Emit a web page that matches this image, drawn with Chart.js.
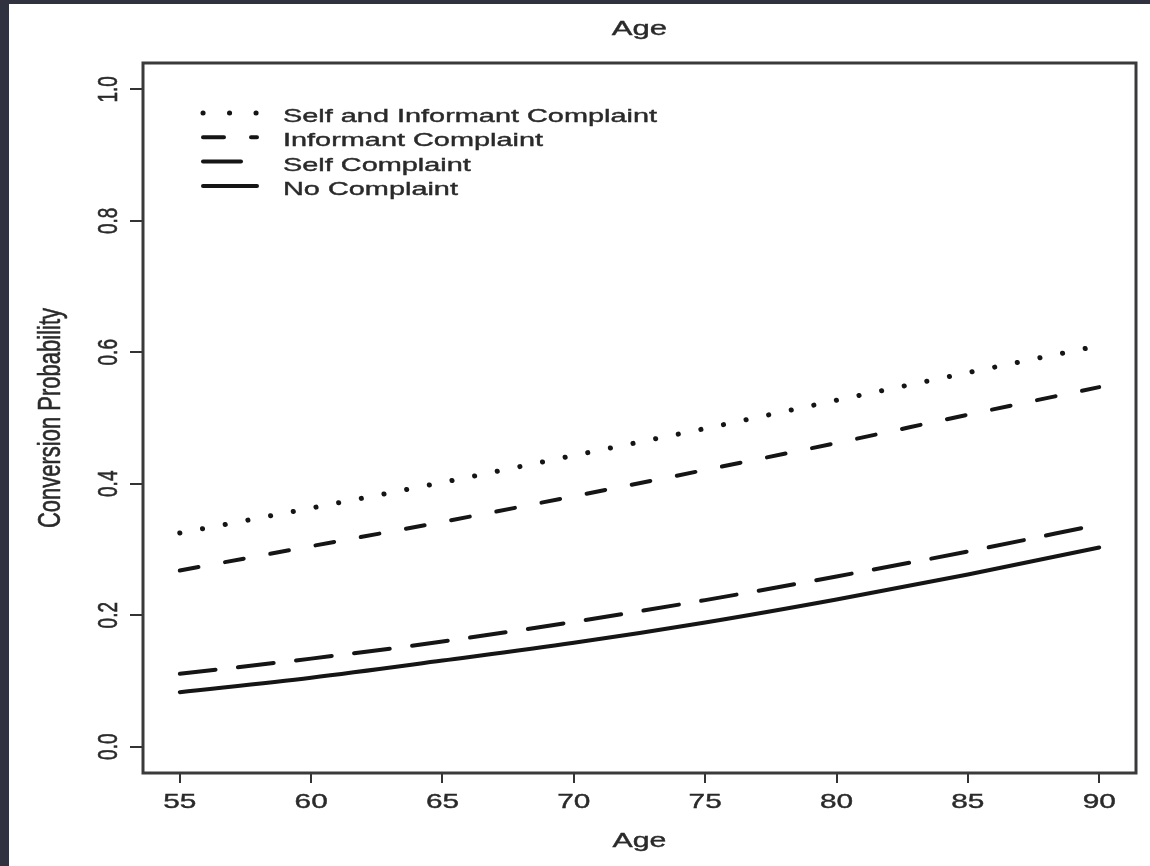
<!DOCTYPE html>
<html>
<head>
<meta charset="utf-8">
<script src="https://cdn.jsdelivr.net/npm/chart.js@4.4.0/dist/chart.umd.min.js"></script>
<style>
  html, body { margin: 0; padding: 0; background: #30323f; }
  #wrap { position: absolute; left: 9px; top: 4px; width: 1141px; height: 862px; background: #fff; }
</style>
</head>
<body>
<div id="wrap"><canvas id="prob-chart" width="1141" height="862"></canvas></div>
<script>
// values, one per 5 years of age
const ages = [55, 60, 65, 70, 75, 80, 85, 90];
const selfAndInformant = [0.325, 0.363, 0.402, 0.443, 0.484, 0.527, 0.569, 0.610];
const informant = [0.268, 0.305, 0.342, 0.381, 0.421, 0.462, 0.505, 0.547];
const selfComplaint = [0.111, 0.134, 0.160, 0.190, 0.223, 0.259, 0.297, 0.338];
const noComplaint = [0.083, 0.105, 0.131, 0.158, 0.189, 0.224, 0.262, 0.303];

const seriesNames = ['Self and Informant Complaint', 'Informant Complaint', 'Self Complaint', 'No Complaint'];
const xTicks = [55, 60, 65, 70, 75, 80, 85, 90];
const yTicks = [0, 0.2, 0.4, 0.6, 0.8, 1.0];
const yTickLabels = ['0.0', '0.2', '0.4', '0.6', '0.8', '1.0'];
const xTitle = 'Age';
const yTitle = 'Conversion Probability';

const ink = '#151515';
const textInk = '#2a2a2a';
const fontFamily = '"Liberation Sans", Arial, Helvetica, sans-serif';

function points(vals) {
  return ages.map((a, i) => ({ x: a, y: vals[i] }));
}

// text in the original is stretched sideways and a bit heavy
function paintText(ctx, text) {
  ctx.fillText(text, 0, 0);
  ctx.lineWidth = 0.4;
  ctx.strokeText(text, 0, 0);
}

function wideText(ctx, text, x, y, size, sx, align) {
  ctx.save();
  ctx.font = size + 'px ' + fontFamily;
  ctx.fillStyle = textInk;
  ctx.strokeStyle = textInk;
  ctx.textAlign = align || 'center';
  ctx.textBaseline = 'alphabetic';
  ctx.translate(x, y);
  ctx.scale(sx, 1);
  paintText(ctx, text);
  ctx.restore();
}

function upText(ctx, text, x, y, size, sy) {
  ctx.save();
  ctx.font = size + 'px ' + fontFamily;
  ctx.fillStyle = textInk;
  ctx.strokeStyle = textInk;
  ctx.textAlign = 'center';
  ctx.textBaseline = 'alphabetic';
  ctx.translate(x, y);
  ctx.rotate(-Math.PI / 2);
  ctx.scale(1, sy);
  paintText(ctx, text);
  ctx.restore();
}

const rPlot = {
  id: 'rPlot',
  afterDraw(chart) {
    const ctx = chart.ctx;
    const area = chart.chartArea;
    const xs = chart.scales.x;
    const ys = chart.scales.y;
    const cx = (area.left + area.right) / 2;

    // box
    ctx.save();
    ctx.strokeStyle = '#3a3a3a';
    ctx.lineWidth = 3;
    ctx.strokeRect(area.left, area.top, area.right - area.left, area.bottom - area.top);
    ctx.restore();

    // tick labels
    xTicks.forEach(v => wideText(ctx, String(v), xs.getPixelForValue(v), 804, 21, 1.42));
    yTicks.forEach((v, i) => upText(ctx, yTickLabels[i], 108, ys.getPixelForValue(v), 19, 1.5));

    // titles
    wideText(ctx, xTitle, cx, 31, 21, 1.48);
    wideText(ctx, xTitle, cx, 843, 21, 1.44);
    upText(ctx, yTitle, 51, 414, 22, 1.4);

    // legend
    chart.data.datasets.forEach((ds, i) => {
      const ly = 109 + i * 24.3;
      ctx.save();
      ctx.strokeStyle = ink;
      ctx.lineWidth = ds.borderWidth;
      ctx.lineCap = 'round';
      ctx.setLineDash(ds.legendDash || []);
      ctx.beginPath();
      ctx.moveTo(194, ly);
      ctx.lineTo(248, ly);
      ctx.stroke();
      ctx.restore();
      wideText(ctx, ds.label, 274, ly + 9, 19, 1.52, 'left');
    });
  }
};

const data = {
  datasets: [
    {
      label: seriesNames[0],
      data: points(selfAndInformant),
      borderDash: [0.1, 23],
      legendDash: [0.1, 26.4],
      borderWidth: 5
    },
    {
      label: seriesNames[1],
      data: points(informant),
      borderDash: [19, 27],
      legendDash: [21, 27],
      borderWidth: 4
    },
    {
      label: seriesNames[2],
      data: points(selfComplaint),
      borderDash: [36, 22.5],
      legendDash: [38, 22.5],
      borderWidth: 4
    },
    {
      label: seriesNames[3],
      data: points(noComplaint),
      borderWidth: 4
    }
  ]
};

data.datasets.forEach(ds => {
  ds.borderColor = ink;
  ds.backgroundColor = ink;
  ds.borderCapStyle = 'round';
  ds.pointRadius = 0;
  ds.fill = false;
  ds.cubicInterpolationMode = 'monotone';
});

const config = {
  type: 'line',
  data: data,
  options: {
    responsive: false,
    animation: false,
    devicePixelRatio: 1,
    layout: { padding: { top: 59, right: 14, left: 0, bottom: 0 } },
    plugins: {
      legend: { display: false },
      tooltip: { enabled: false }
    },
    scales: {
      x: {
        type: 'linear',
        min: 53.6,
        max: 91.4,
        afterBuildTicks: s => { s.ticks = xTicks.map(v => ({ value: v })); },
        afterFit: s => { s.height = 93; },
        ticks: { display: false },
        border: { display: false },
        grid: { drawOnChartArea: false, drawTicks: true, tickLength: 10, color: '#333', lineWidth: 2 }
      },
      y: {
        type: 'linear',
        min: -0.04,
        max: 1.04,
        afterBuildTicks: s => { s.ticks = yTicks.map(v => ({ value: v })); },
        afterFit: s => { s.width = 134; },
        ticks: { display: false },
        border: { display: false },
        grid: { drawOnChartArea: false, drawTicks: true, tickLength: 13, color: '#333', lineWidth: 2 }
      }
    }
  },
  plugins: [rPlot]
};

new Chart(document.getElementById('prob-chart'), config);
</script>
</body>
</html>
